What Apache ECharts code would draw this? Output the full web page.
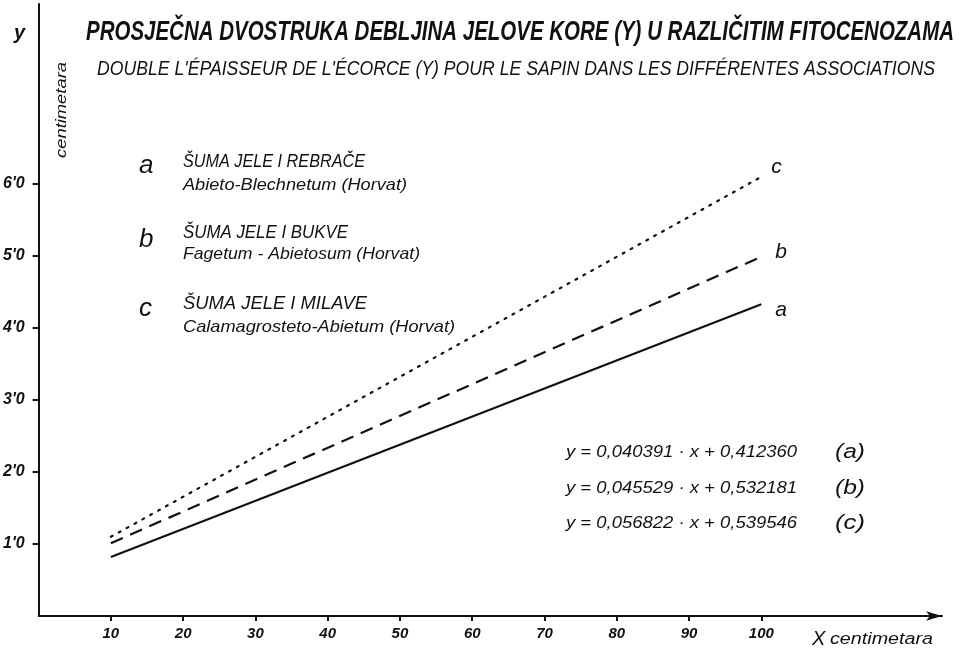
<!DOCTYPE html>
<html>
<head>
<meta charset="utf-8">
<script src="https://cdn.jsdelivr.net/npm/echarts@6/dist/echarts.min.js"></script>
<style>html,body{margin:0;padding:0;background:#fff}#c{width:969px;height:655px}</style>
</head>
<body>
<div id="c"></div>
<script>
// ---- data ----
const xValues = [10, 100];
const seriesA = [0.82, 4.33];   // solid
const seriesB = [1.01, 4.99];   // dashed
const seriesC = [1.10, 6.10];   // dotted
const xTicks = [10, 20, 30, 40, 50, 60, 70, 80, 90, 100];
const yTicks = [1, 2, 3, 4, 5, 6];
const yTickLabels = ["1'0", "2'0", "3'0", "4'0", "5'0", "6'0"];
const seriesNames = ['a', 'b', 'c'];
const titleText = 'PROSJEČNA DVOSTRUKA DEBLJINA JELOVE KORE (Y) U RAZLIČITIM FITOCENOZAMA';
const subtitleText = "DOUBLE L'ÉPAISSEUR DE L'ÉCORCE (Y) POUR LE SAPIN DANS LES DIFFÉRENTES ASSOCIATIONS";
const legendHeads = ['ŠUMA JELE I REBRAČE', 'ŠUMA JELE I BUKVE', 'ŠUMA JELE I MILAVE'];
const legendSubs = ['Abieto-Blechnetum (Horvat)', 'Fagetum - Abietosum (Horvat)', 'Calamagrosteto-Abietum (Horvat)'];
const equations = ['y = 0,040391 · x + 0,412360', 'y = 0,045529 · x + 0,532181', 'y = 0,056822 · x + 0,539546'];
const eqTags = ['(a)', '(b)', '(c)'];

const FAM = "'Liberation Sans', 'DejaVu Sans', sans-serif";
const mctx = document.createElement('canvas').getContext('2d');
function fitScale(text, font, width) {
  mctx.font = font;
  return width / mctx.measureText(text).width;
}
function txt(text, x, y, font, width, extra) {
  const o = {
    type: 'text', x: x, y: y, z: 100,
    scaleX: width ? fitScale(text, font, width) : 1,
    style: { text: text, font: font, fill: '#111', align: 'left', verticalAlign: 'middle' }
  };
  return Object.assign(o, extra || {});
}

const graphics = [];
graphics.push(txt(titleText, 86, 32, 'italic bold 28px ' + FAM, 868));
graphics.push(txt(subtitleText, 97, 69, 'italic 21px ' + FAM, 838));
graphics.push(txt('y', 14, 33, 'italic bold 20px ' + FAM, 0));
graphics.push({
  type: 'text', x: 62, y: 110, rotation: Math.PI / 2, z: 100,
  scaleX: fitScale('centimetara', 'italic 15px ' + FAM, 96),
  style: { text: 'centimetara', font: 'italic 15px ' + FAM, fill: '#111', align: 'center', verticalAlign: 'middle' }
});
const legY = [[166, 162, 185], [240, 233, 254], [309, 304, 327]];
const legSubW = [224, 237, 272];
const legHeadW = [182, 165, 184];
for (let i = 0; i < 3; i++) {
  graphics.push(txt(seriesNames[i], 139, legY[i][0], 'italic 26px ' + FAM, 0));
  graphics.push(txt(legendHeads[i], 183, legY[i][1], 'italic 18px ' + FAM, legHeadW[i]));
  graphics.push(txt(legendSubs[i], 183, legY[i][2], 'italic 17px ' + FAM, legSubW[i]));
}
const eqY = [452, 488, 523];
for (let i = 0; i < 3; i++) {
  graphics.push(txt(equations[i], 566, eqY[i], 'italic 17px ' + FAM, 231));
  graphics.push(txt(eqTags[i], 835, eqY[i], 'italic 20px ' + FAM, 30));
}
graphics.push(txt('X', 812, 639, 'italic 20px ' + FAM, 0));
graphics.push(txt('centimetara', 830, 640, 'italic 16px ' + FAM, 103));

const mk = arr => xValues.map((x, i) => [x, arr[i]]);
const lineStyles = [
  { type: 'solid', width: 2.2 },
  { type: [13, 8], width: 2.2 },
  { type: [2, 7], width: 2.2, cap: 'round' }
];
const endOffsets = [[6, 6], [6, -5], [2, -10]];
const allData = [seriesA, seriesB, seriesC];

const series = allData.map((d, i) => ({
  type: 'line', name: seriesNames[i], data: mk(d), symbol: 'none',
  xAxisIndex: 0, yAxisIndex: 0,
  lineStyle: Object.assign({ color: '#111' }, lineStyles[i]),
  endLabel: {
    show: true, formatter: seriesNames[i], offset: endOffsets[i],
    fontFamily: FAM, fontStyle: 'italic', fontSize: 21, color: '#111'
  },
  silent: true, animation: false
}));

const baseX = { type: 'value', min: 0, max: 125, splitLine: { show: false } };
const baseY = { type: 'value', min: 0, max: 8.5, splitLine: { show: false } };

const option = {
  animation: false,
  backgroundColor: '#fff',
  grid: { left: 37, right: 27, top: 4, bottom: 39, containLabel: false },
  xAxis: [
    Object.assign({}, baseX, {
      axisLine: { show: true, onZero: false, lineStyle: { color: '#111', width: 2 }, symbol: ['none', 'arrow'], symbolSize: [7, 16] },
      axisTick: { show: true, inside: false, length: 5, lineStyle: { color: '#111', width: 2 }, customValues: xTicks },
      axisLabel: { show: true, customValues: xTicks, margin: 10, color: '#111', fontFamily: FAM, fontStyle: 'italic', fontWeight: 'bold', fontSize: 15 }
    }),
    Object.assign({}, baseX, {
      axisLine: { show: false },
      axisTick: { show: true, inside: true, length: 5, lineStyle: { color: '#111', width: 2 }, customValues: xTicks },
      axisLabel: { show: false }
    })
  ],
  yAxis: [
    Object.assign({}, baseY, {
      axisLine: { show: true, onZero: false, lineStyle: { color: '#111', width: 2 } },
      axisTick: { show: true, inside: false, length: 6, lineStyle: { color: '#111', width: 2 }, customValues: yTicks },
      axisLabel: {
        show: true, customValues: yTicks, margin: 14, color: '#111', fontFamily: FAM, fontStyle: 'italic', fontWeight: 'bold', fontSize: 16,
        formatter: v => yTickLabels[yTicks.indexOf(v)] || ''
      }
    }),
    Object.assign({}, baseY, {
      axisLine: { show: false },
      axisTick: { show: true, inside: true, length: 6, lineStyle: { color: '#111', width: 2 }, customValues: yTicks },
      axisLabel: { show: false }
    })
  ],
  series: series,
  graphic: graphics
};

const chart = echarts.init(document.getElementById('c'), null, { renderer: 'canvas' });
chart.setOption(option);
</script>
</body>
</html>
